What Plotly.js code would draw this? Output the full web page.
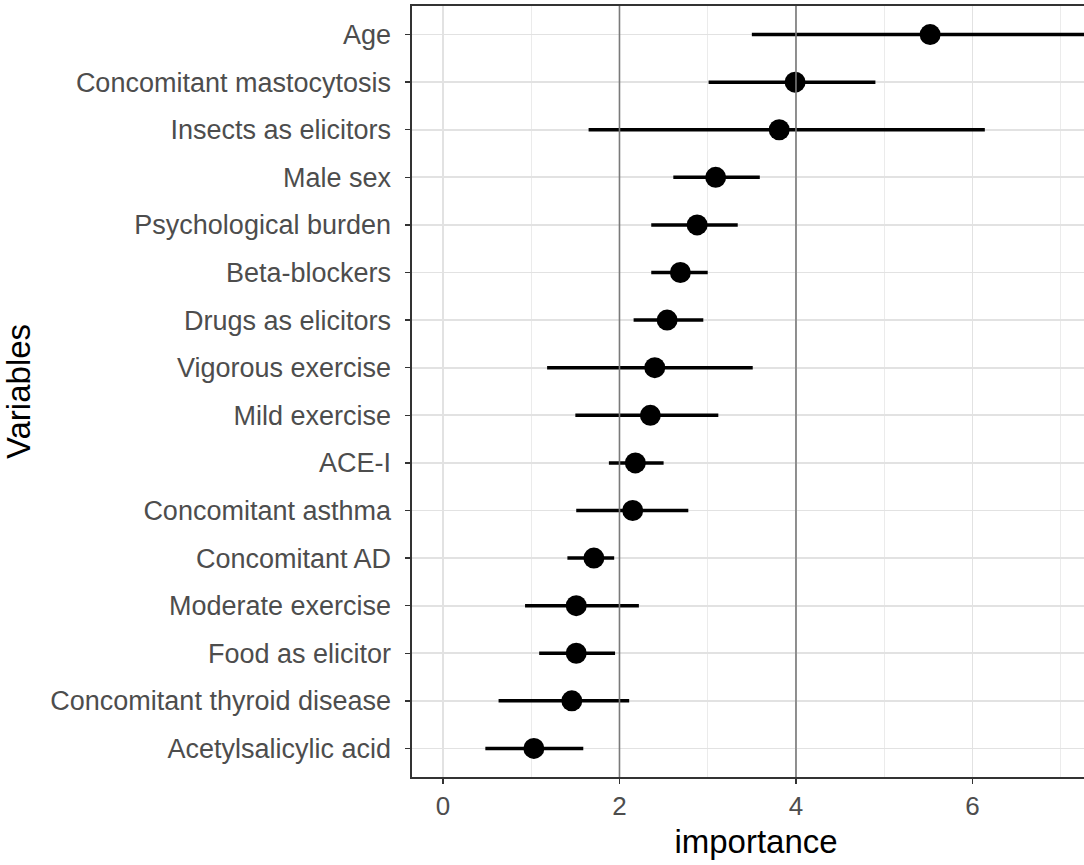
<!DOCTYPE html>
<html>
<head>
<meta charset="utf-8">
<script src="https://cdn.plot.ly/plotly-3.0.1.min.js"></script>
<style>
html, body { margin: 0; padding: 0; overflow: hidden; background: #fff; }
#chart { width: 1100px; height: 865px; }
</style>
</head>
<body>
<div id="chart"></div>
<script>
const variables = [
  "Age", "Concomitant mastocytosis", "Insects as elicitors", "Male sex",
  "Psychological burden", "Beta-blockers", "Drugs as elicitors", "Vigorous exercise",
  "Mild exercise", "ACE-I", "Concomitant asthma", "Concomitant AD",
  "Moderate exercise", "Food as elicitor", "Concomitant thyroid disease", "Acetylsalicylic acid"
];
const importance = [5.52, 3.99, 3.81, 3.09, 2.88, 2.69, 2.54, 2.40, 2.35, 2.18, 2.15, 1.71, 1.51, 1.51, 1.46, 1.03];
const lower      = [3.50, 3.01, 1.65, 2.61, 2.36, 2.36, 2.16, 1.18, 1.50, 1.88, 1.51, 1.41, 0.93, 1.09, 0.63, 0.48];
const upper      = [7.60, 4.90, 6.14, 3.59, 3.34, 3.00, 2.95, 3.51, 3.12, 2.50, 2.78, 1.94, 2.22, 1.95, 2.11, 1.59];
const refLines = [2, 4];
const xTicks = [0, 2, 4, 6];

const refTraces = refLines.map(v => ({
  type: "scatter",
  mode: "lines",
  x: [v, v],
  y: [0, 1],
  yaxis: "y2",
  line: { color: "#7a7a7a", width: 1.6 },
  hoverinfo: "skip",
  showlegend: false
}));

const trace = {
  type: "scatter",
  mode: "markers",
  x: importance,
  y: variables,
  marker: { color: "#000000", size: 21, line: { width: 0 } },
  error_x: {
    type: "data",
    symmetric: false,
    array: upper.map((u, i) => u - importance[i]),
    arrayminus: lower.map((l, i) => importance[i] - l),
    color: "#000000",
    thickness: 3.5,
    width: 0
  },
  hoverinfo: "x+y",
  showlegend: false
};

const layout = {
  width: 1100,
  height: 865,
  margin: { l: 412, r: 0, t: 6, b: 88, pad: 0 },
  paper_bgcolor: "#ffffff",
  plot_bgcolor: "#ffffff",
  font: { family: "Liberation Sans, Arial, sans-serif", color: "#000" },
  showlegend: false,
  xaxis: {
    range: [-0.351, 7.445],
    tickmode: "array",
    tickvals: xTicks,
    ticktext: xTicks.map(String),
    ticks: "outside",
    ticklen: 5,
    tickwidth: 1.5,
    tickcolor: "#333333",
    tickfont: { size: 26, color: "#4d4d4d" },
    showline: true,
    mirror: true,
    linecolor: "#333333",
    linewidth: 1.6,
    showgrid: true,
    gridcolor: "#e2e2e2",
    gridwidth: 1.6,
    minor: { dtick: 1, tick0: 0, showgrid: true, gridcolor: "#ebebeb", gridwidth: 1.2, ticks: "" },
    zeroline: false,
    title: { text: "importance", font: { size: 33, color: "#000" }, standoff: 10 }
  },
  yaxis: {
    type: "category",
    categoryorder: "array",
    categoryarray: variables,
    range: [15.6, -0.6],
    ticks: "outside",
    ticklen: 5,
    tickwidth: 1.5,
    tickcolor: "#333333",
    tickfont: { size: 27, color: "#4d4d4d" },
    ticklabelstandoff: 9,
    showline: true,
    mirror: true,
    linecolor: "#333333",
    linewidth: 1.6,
    showgrid: true,
    gridcolor: "#e2e2e2",
    gridwidth: 1.8,
    zeroline: false,
    title: { text: "Variables", font: { size: 33, color: "#000" }, standoff: 10 }
  },
  yaxis2: {
    overlaying: "y",
    range: [0, 1],
    visible: false,
    showgrid: false,
    zeroline: false,
    fixedrange: true
  }
};

Plotly.newPlot("chart", refTraces.concat([trace]), layout, { displayModeBar: false, staticPlot: true });
</script>
</body>
</html>
